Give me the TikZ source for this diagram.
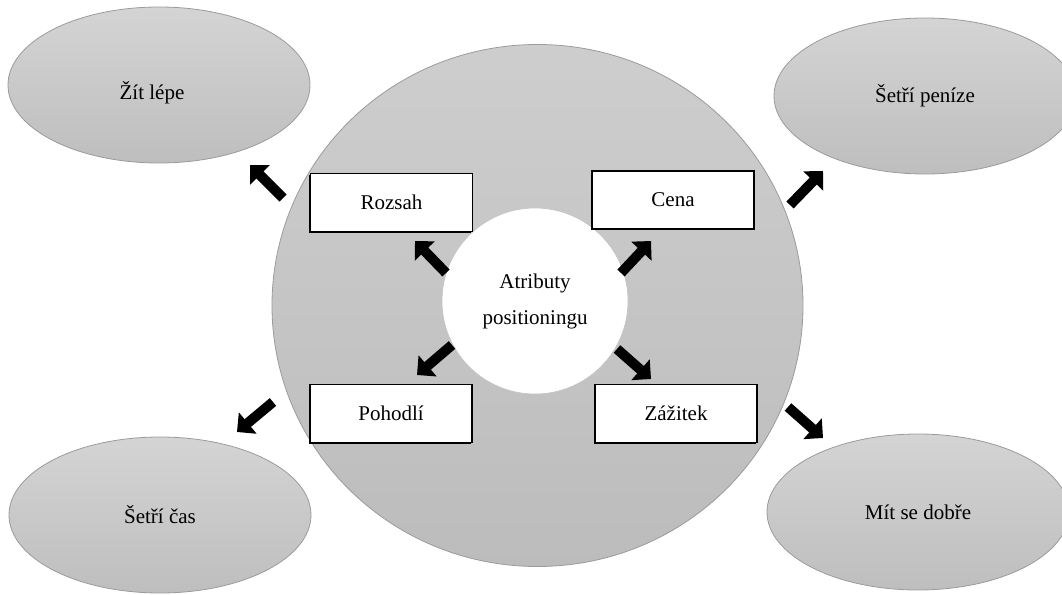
\documentclass[tikz,border=0pt]{standalone}
\usepackage{fontspec}
\setmainfont{Liberation Serif}
\usetikzlibrary{shapes.geometric,arrows.meta,shadows}
\definecolor{shadetop}{RGB}{212,212,212}
\definecolor{shadebot}{RGB}{190,190,190}
\definecolor{rimgray}{RGB}{155,155,155}
\tikzset{
  lbl/.style={font=\fontsize{21}{36}\selectfont},
  benefit/.style={ellipse, draw=rimgray, line width=0.8pt,
    top color=shadetop, bottom color=shadebot,
    minimum width=302pt, minimum height=156pt, inner sep=0pt, lbl},
  attrbox/.style={rectangle, draw=black, line width=1.3pt, fill=white,
    drop shadow={shadow xshift=-1.2pt, shadow yshift=-1.2pt,
      fill=black, opacity=1},
    minimum width=162pt, minimum height=58pt, inner sep=0pt, lbl},
  blockarrow/.style={line width=10pt, line cap=butt,
    -{Triangle[width=27pt,length=14pt]}}
}
\begin{document}
\begin{tikzpicture}[x=1pt,y=-1pt]
\useasboundingbox (0,0) rectangle (1062,594);
\clip (0,0) rectangle (1062,594);

% outer ring of attributes
\node[ellipse, draw=rimgray, line width=0.8pt,
      top color=shadetop!97!black, bottom color=shadebot!103!white,
      minimum width=531pt, minimum height=522pt, inner sep=0pt] (ring) at (537.5,305.5) {};

% benefits in the corners
\node[benefit] (zit) at (159,85) {};
\node[lbl] (zitlbl) at (152,93) {Žít lépe};
\node[benefit] (penize) at (925,96) {Šetří peníze};
\node[benefit] (cas) at (160,515) {Šetří čas};
\node[benefit] (dobre) at (918,512) {Mít se dobře};

% core of the positioning
\node[circle, draw=rimgray!60, line width=0.6pt, fill=white,
      minimum size=186pt, inner sep=0pt, align=center, lbl] (core) at (535,301)
      {Atributy\\positioningu};

% attributes
\node[attrbox] (rozsah) at (391.5,202.5) {Rozsah};
\node[attrbox] (cena) at (673,200) {Cena};
\node[attrbox] (pohodli) at (391,413.5) {Pohodlí};
\node[attrbox] (zazitek) at (676,413.5) {Zážitek};

% arrow ends
\coordinate (a1s) at (283,198); \coordinate (a1e) at (250,165);
\coordinate (a2s) at (446,273); \coordinate (a2e) at (415,241);
\coordinate (a3s) at (621,273); \coordinate (a3e) at (651,241);
\coordinate (a4s) at (790,205); \coordinate (a4e) at (823,171);
\coordinate (a5s) at (452,345); \coordinate (a5e) at (417,375);
\coordinate (a6s) at (273,402); \coordinate (a6e) at (237,432);
\coordinate (a7s) at (617,349); \coordinate (a7e) at (651,379);
\coordinate (a8s) at (788,407); \coordinate (a8e) at (823,438);

\draw[blockarrow] (a1s) -- (a1e);
\draw[blockarrow] (a2s) -- (a2e);
\draw[blockarrow] (a3s) -- (a3e);
\draw[blockarrow] (a4s) -- (a4e);
\draw[blockarrow] (a5s) -- (a5e);
\draw[blockarrow] (a6s) -- (a6e);
\draw[blockarrow] (a7s) -- (a7e);
\draw[blockarrow] (a8s) -- (a8e);
\end{tikzpicture}
\end{document}
